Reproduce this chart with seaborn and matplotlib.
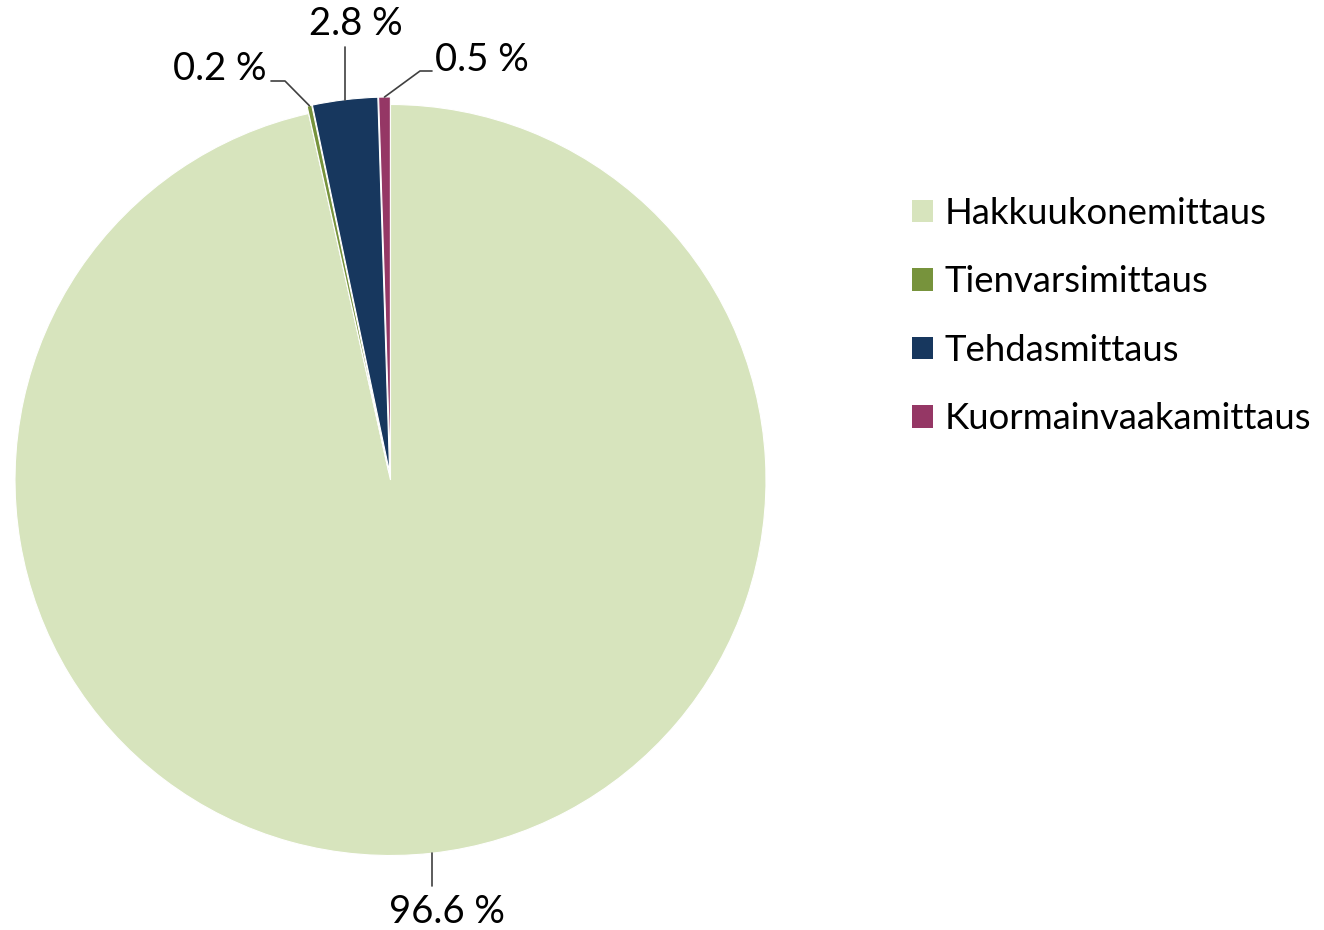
import numpy as np
import matplotlib
matplotlib.use("Agg")
import matplotlib.pyplot as plt
import seaborn as sns
from matplotlib.patches import Patch

categories = ["Hakkuukonemittaus", "Tienvarsimittaus", "Tehdasmittaus", "Kuormainvaakamittaus"]
shares = [96.6, 0.2, 2.8, 0.5]
labels = ["96.6 %", "0.2 %", "2.8 %", "0.5 %"]
colors = ["#D7E4BD", "#77933C", "#17375E", "#953765"]

sns.set_theme(style="white")
plt.rcParams["font.family"] = ["Lato", "DejaVu Sans"]

W, H = 1324, 930
CX, CY, R = 390.5, 480.0, 375.5
fig = plt.figure(figsize=(W / 100, H / 100), dpi=100)
ax = fig.add_axes([0, 0, 1, 1])


def P(px, py):
    return ((px - CX) / R, (CY - py) / R)


explode = [0, 0.02, 0.02, 0.02]
wedges, _ = ax.pie(shares, colors=colors, startangle=90, counterclock=False,
                   explode=explode, radius=1.0,
                   wedgeprops=dict(edgecolor="white", linewidth=0.8))
ax.set_aspect("auto")
ax.set_xlim(-CX / R, (W - CX) / R)
ax.set_ylim(-(H - CY) / R, CY / R)
ax.set_axis_off()

# anchor points on the outer edge of each wedge (middle angle)
anchors = []
for w in wedges:
    th = np.deg2rad((w.theta1 + w.theta2) / 2)
    cx, cy = w.center
    anchors.append((cx + w.r * np.cos(th), cy + w.r * np.sin(th)))

lc = "#404040"
fs = 27.5
# 96.6 %
x0, y0 = anchors[0]
ax.plot([x0, x0], [y0, P(0, 886)[1]], color=lc, lw=1.2)
ax.text(P(447, 0)[0], P(0, 912)[1], labels[0], ha="center", va="center", fontsize=fs, color="black")
# 0.2 %
a = anchors[1]
e = P(285, 81)
s = P(271, 81)
ax.plot([a[0], e[0], s[0]], [a[1], e[1], s[1]], color=lc, lw=1.2)
ax.text(P(266, 0)[0], P(0, 69)[1], labels[1], ha="right", va="center", fontsize=fs, color="black")
# 2.8 %
a = anchors[2]
ax.plot([a[0], a[0]], [a[1], P(0, 47)[1]], color=lc, lw=1.2)
ax.text(P(356, 0)[0], P(0, 24)[1], labels[2], ha="center", va="center", fontsize=fs, color="black")
# 0.5 %
a = anchors[3]
e = P(420, 71)
s = P(432, 71)
ax.plot([a[0], e[0], s[0]], [a[1], e[1], s[1]], color=lc, lw=1.2)
ax.text(P(435, 0)[0], P(0, 60)[1], labels[3], ha="left", va="center", fontsize=fs, color="black")

handles = [Patch(facecolor=c, edgecolor="none", label=l) for c, l in zip(colors, categories)]
fig.legend(handles=handles, loc="upper left", bbox_to_anchor=(912 / W, 1 - 197 / H),
           frameon=False, fontsize=26.3, handlelength=0.58, handleheight=0.58,
           handletextpad=0.3, labelspacing=0.97, borderaxespad=0, borderpad=0,
           labelcolor="black")

fig.savefig("out.png", dpi=100)
